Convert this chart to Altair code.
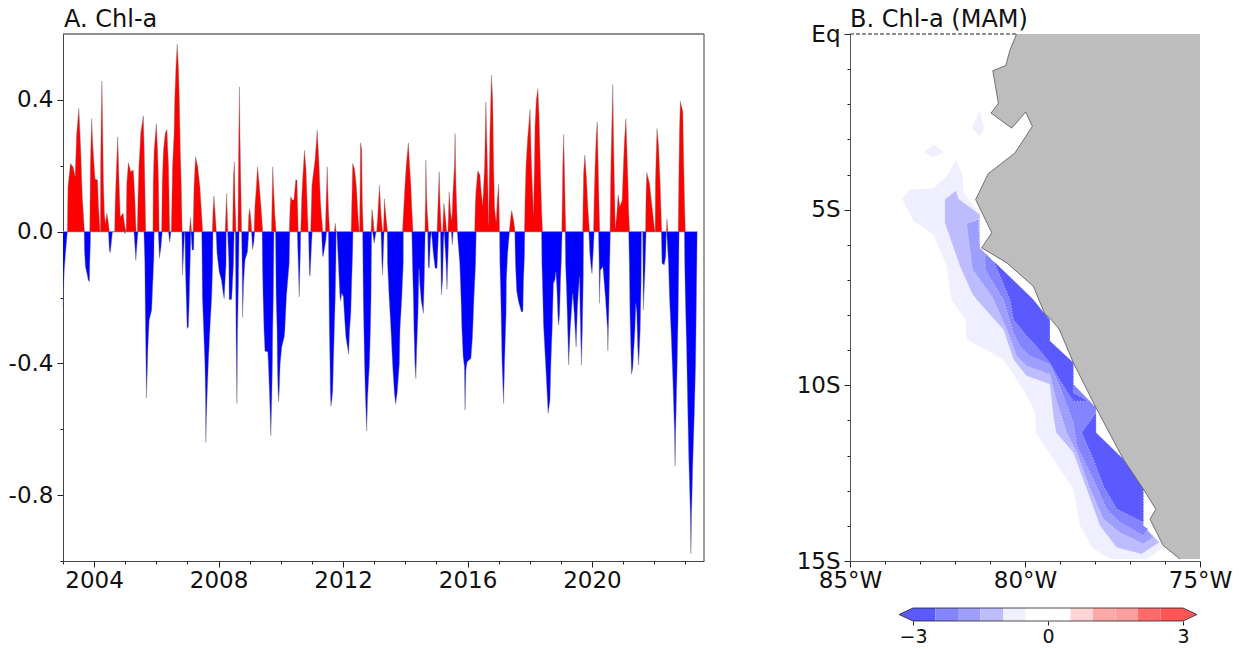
import altair as alt
import pandas as pd

FONT = "DejaVu Sans"

# ---- Panel A: Chl-a anomaly (year, value)
red_points = [
(2003.14,0),(2003.16,.136),(2003.24,.207),(2003.32,.197),(2003.39,.167),(2003.44,.298),(2003.51,.374),(2003.57,.247),(2003.62,.106),(2003.69,0),
(2003.86,0),(2003.88,.2),(2003.92,.343),(2003.96,.26),(2004.03,.16),(2004.11,.157),(2004.14,.08),(2004.19,0),
(2004.20,0),(2004.21,.2),(2004.23,.35),(2004.25,.457),(2004.27,.35),(2004.30,.15),(2004.33,.056),(2004.36,.025),(2004.41,.056),(2004.46,.025),(2004.49,0),
(2004.66,0),(2004.68,.096),(2004.72,.2),(2004.76,.288),(2004.80,.157),(2004.84,.045),(2004.93,.056),(2004.99,.015),(2005.03,0),
(2005.05,.146),(2005.10,.209),(2005.18,.182),(2005.26,.187),(2005.31,.1),(2005.35,0),
(2005.39,0),(2005.41,.1),(2005.44,.2),(2005.50,.3),(2005.58,.352),(2005.61,.25),(2005.63,.15),(2005.66,0),
(2005.89,0),(2005.90,.146),(2005.93,.247),(2006.00,.328),(2006.04,.247),(2006.07,.146),(2006.09,0),
(2006.17,0),(2006.19,.15),(2006.23,.25),(2006.29,.30),(2006.34,.31),(2006.39,.2),(2006.41,.1),(2006.43,0),
(2006.48,0),(2006.50,.096),(2006.52,.197),(2006.57,.298),(2006.59,.399),(2006.63,.50),(2006.67,.569),(2006.71,.50),(2006.74,.399),(2006.77,.247),(2006.80,.146),(2006.83,0),
(2007.06,0),(2007.10,.043),(2007.13,0),
(2007.18,0),(2007.21,.136),(2007.26,.227),(2007.33,.197),(2007.40,.136),(2007.45,.06),(2007.49,0),
(2007.80,0),(2007.82,.06),(2007.85,.108),(2007.89,.056),(2007.93,0),
(2008.21,0),(2008.24,.07),(2008.26,.116),(2008.28,.05),(2008.30,0),
(2008.45,0),(2008.47,.12),(2008.48,.172),(2008.51,.212),(2008.53,.09),(2008.55,.04),(2008.56,0),
(2008.62,0),(2008.64,.2),(2008.65,.298),(2008.67,.44),(2008.69,.28),(2008.72,.12),(2008.74,0),
(2008.95,0),(2008.97,.05),(2009.00,.07),(2009.04,.035),(2009.07,0),
(2009.14,0),(2009.17,.08),(2009.21,.13),(2009.25,.197),(2009.30,.15),(2009.36,.08),(2009.42,0),
(2009.70,0),(2009.72,.1),(2009.74,.197),(2009.77,.13),(2009.81,.05),(2009.85,0),
(2010.27,0),(2010.30,.08),(2010.32,.106),(2010.37,.096),(2010.42,.096),(2010.48,.157),(2010.52,.157),(2010.56,0),
(2010.64,0),(2010.67,.1),(2010.70,.157),(2010.76,.247),(2010.81,.19),(2010.85,.08),(2010.88,0),
(2010.96,0),(2011.00,.14),(2011.05,.18),(2011.10,.217),(2011.17,.308),(2011.23,.2),(2011.27,.1),(2011.30,.056),(2011.35,0),
(2011.43,0),(2011.46,.1),(2011.49,.197),(2011.53,.07),(2011.57,0),
(2011.72,0),(2011.75,.025),(2011.78,0),
(2012.26,0),(2012.29,.12),(2012.31,.207),(2012.37,.19),(2012.43,.136),(2012.48,.05),(2012.52,0),
(2012.53,0),(2012.55,.15),(2012.56,.27),(2012.60,.25),(2012.62,.09),(2012.65,0),
(2012.90,0),(2012.93,.068),(2012.97,.035),(2013.00,0),
(2013.08,0),(2013.12,.056),(2013.17,.141),(2013.22,.056),(2013.27,0),(2013.30,.005),(2013.33,.10),(2013.38,.045),(2013.43,0),
(2013.91,0),(2013.95,.07),(2013.99,.14),(2014.03,.2),(2014.10,.27),(2014.14,.2),(2014.18,.14),(2014.21,.07),(2014.25,0),
(2014.63,0),(2014.65,.1),(2014.66,.217),(2014.69,.1),(2014.71,.056),(2014.75,0),
(2015.02,0),(2015.05,.08),(2015.07,.13),(2015.09,.182),(2015.12,.08),(2015.16,0),
(2015.20,0),(2015.24,.086),(2015.29,.045),(2015.33,0),
(2015.37,0),(2015.41,.121),(2015.46,.056),(2015.50,.035),(2015.53,.116),(2015.58,.2),(2015.60,.298),(2015.63,.14),(2015.68,0),
(2016.23,0),(2016.25,.08),(2016.27,.12),(2016.33,.185),(2016.40,.172),(2016.44,.12),(2016.49,.08),(2016.55,.2),(2016.59,.394),(2016.64,.2),(2016.68,.02),
(2016.72,.298),(2016.77,.475),(2016.81,.40),(2016.84,.2),(2016.87,.07),(2016.92,.03),(2016.96,.10),(2017.00,.144),(2017.03,0),
(2017.34,0),(2017.39,.045),(2017.42,.064),(2017.48,.035),(2017.53,0),
(2017.83,0),(2017.85,.1),(2017.88,.2),(2017.93,.28),(2018.01,.371),(2018.04,.25),(2018.07,.17),(2018.12,.056),(2018.15,.2),(2018.17,.32),(2018.21,.40),(2018.26,.434),(2018.30,.35),(2018.34,.2),(2018.38,.07),(2018.41,0),
(2019.03,0),(2019.05,.12),(2019.06,.197),(2019.09,.295),(2019.12,.167),(2019.14,.07),(2019.16,0),
(2019.70,0),(2019.72,.12),(2019.73,.177),(2019.77,.232),(2019.82,.167),(2019.87,.07),(2019.92,0),
(2020.05,0),(2020.07,.1),(2020.10,.2),(2020.14,.298),(2020.17,.333),(2020.20,.2),(2020.23,.07),(2020.25,0),
(2020.58,0),(2020.60,.15),(2020.62,.25),(2020.67,.447),(2020.69,.3),(2020.72,.15),(2020.75,.01),(2020.80,.056),(2020.84,.111),(2020.90,.076),(2020.97,.096),(2021.01,.2),(2021.04,.27),(2021.09,.343),(2021.12,.26),(2021.16,.14),(2021.18,.06),(2021.21,0),
(2021.72,0),(2021.74,.12),(2021.76,.179),(2021.85,.146),(2021.93,.076),(2022.00,.015),(2022.03,0),
(2022.04,.15),(2022.06,.22),(2022.09,.313),(2022.14,.26),(2022.19,.15),(2022.22,.06),(2022.24,0),
(2022.39,0),(2022.41,.038),(2022.44,0),
(2022.77,0),(2022.79,.15),(2022.81,.3),(2022.84,.396),(2022.92,.364),(2022.95,.2),(2022.98,.07),(2023.00,0),
]

blue_points = [
(2003.00,-.228),(2003.04,-.117),(2003.09,-.056),(2003.14,0),
(2003.68,0),(2003.69,-.056),(2003.72,-.106),(2003.77,-.127),(2003.81,-.147),(2003.85,-.152),(2003.86,-.096),(2003.88,-.035),(2003.885,0),
(2004.46,0),(2004.49,-.056),(2004.52,-.064),(2004.59,0),
(2004.97,0),(2004.99,-.006),(2005.01,0),
(2005.28,0),(2005.32,-.056),(2005.34,-.088),(2005.38,-.035),(2005.41,0),
(2005.60,0),(2005.63,-.096),(2005.64,-.198),(2005.65,-.279),(2005.66,-.35),(2005.67,-.42),(2005.68,-.505),(2005.71,-.42),(2005.73,-.35),(2005.77,-.268),(2005.85,-.238),(2005.89,-.147),(2005.92,-.076),(2005.93,0),
(2006.06,0),(2006.08,-.035),(2006.10,-.081),(2006.15,-.046),(2006.19,0),
(2006.39,0),(2006.43,-.033),(2006.47,0),
(2006.82,0),(2006.84,-.132),(2006.87,-.076),(2006.90,-.015),(2006.92,0),
(2006.93,-.096),(2006.96,-.198),(2006.99,-.294),(2007.03,-.289),(2007.06,-.198),(2007.09,-.076),(2007.11,0),
(2007.15,-.056),(2007.20,-.056),(2007.21,0),
(2007.46,0),(2007.47,-.096),(2007.48,-.198),(2007.52,-.299),(2007.56,-.40),(2007.58,-.502),(2007.59,-.64),(2007.61,-.563),(2007.63,-.502),(2007.67,-.40),(2007.72,-.299),(2007.78,-.198),(2007.81,-.096),(2007.82,0),
(2007.92,0),(2007.95,-.066),(2008.02,-.122),(2008.09,-.147),(2008.15,-.188),(2008.18,-.203),(2008.21,-.15),(2008.24,-.10),(2008.245,0),
(2008.29,0),(2008.33,-.096),(2008.34,-.206),(2008.42,-.206),(2008.48,-.096),(2008.50,0),
(2008.54,0),(2008.55,-.147),(2008.56,-.299),(2008.59,-.522),(2008.61,-.299),(2008.64,-.147),(2008.66,0),
(2008.74,0),(2008.76,-.127),(2008.77,-.26),(2008.81,-.147),(2008.85,-.086),(2008.93,-.061),(2008.97,0),
(2009.06,0),(2009.09,-.054),(2009.13,-.035),(2009.16,0),
(2009.40,0),(2009.41,-.096),(2009.43,-.198),(2009.46,-.299),(2009.49,-.363),(2009.58,-.365),(2009.60,-.40),(2009.64,-.502),(2009.68,-.62),(2009.71,-.502),(2009.73,-.40),(2009.74,-.299),(2009.76,-.198),(2009.77,-.096),(2009.78,0),
(2009.83,0),(2009.84,-.096),(2009.85,-.198),(2009.88,-.299),(2009.89,-.40),(2009.91,-.48),(2009.93,-.517),(2009.95,-.48),(2009.98,-.40),(2010.03,-.35),(2010.11,-.32),(2010.13,-.299),(2010.18,-.198),(2010.27,-.096),(2010.29,0),
(2010.53,0),(2010.56,-.096),(2010.59,-.198),(2010.63,-.056),(2010.64,0),
(2010.89,0),(2010.92,-.127),(2010.94,-.135),(2010.99,-.035),(2011.01,0),
(2011.31,0),(2011.34,-.071),(2011.36,-.076),(2011.45,-.025),(2011.47,0),
(2011.53,0),(2011.54,-.096),(2011.55,-.198),(2011.56,-.299),(2011.58,-.40),(2011.59,-.48),(2011.61,-.53),(2011.64,-.512),(2011.67,-.48),(2011.69,-.40),(2011.72,-.299),(2011.75,-.198),(2011.77,-.096),(2011.78,0),
(2011.80,0),(2011.83,-.056),(2011.86,-.117),(2011.90,-.198),(2011.92,-.211),(2011.96,-.187),(2012.01,-.198),(2012.04,-.248),(2012.09,-.32),(2012.18,-.372),(2012.21,-.299),(2012.25,-.248),(2012.28,-.147),(2012.31,-.056),(2012.32,0),
(2012.63,0),(2012.64,-.096),(2012.65,-.198),(2012.67,-.299),(2012.69,-.40),(2012.72,-.502),(2012.76,-.606),(2012.79,-.502),(2012.85,-.40),(2012.88,-.299),(2012.90,-.198),(2012.91,-.096),(2012.92,0),
(2012.95,0),(2013.00,-.035),(2013.06,0),
(2013.22,0),(2013.25,-.096),(2013.27,-.132),(2013.30,-.05),(2013.32,0),
(2013.42,0),(2013.43,-.096),(2013.48,-.198),(2013.54,-.299),(2013.59,-.40),(2013.65,-.49),(2013.69,-.524),(2013.74,-.49),(2013.81,-.40),(2013.83,-.299),(2013.89,-.198),(2013.935,-.096),(2013.94,0),
(2014.21,0),(2014.23,-.096),(2014.26,-.198),(2014.28,-.299),(2014.31,-.40),(2014.34,-.446),(2014.37,-.35),(2014.41,-.248),(2014.44,-.112),(2014.47,-.162),(2014.51,-.208),(2014.58,-.248),(2014.61,-.147),(2014.64,0),
(2014.72,0),(2014.74,-.106),(2014.77,-.111),(2014.81,-.025),(2014.84,0),
(2014.90,-.066),(2014.96,-.111),(2015.02,-.111),(2015.07,0),
(2015.13,0),(2015.16,-.192),(2015.20,-.147),(2015.23,-.025),(2015.25,0),
(2015.31,-.096),(2015.34,-.175),(2015.38,-.056),(2015.40,0),
(2015.48,0),(2015.51,-.04),(2015.54,0),
(2015.67,0),(2015.75,-.096),(2015.79,-.198),(2015.82,-.299),(2015.86,-.38),(2015.90,-.41),(2015.92,-.542),(2015.95,-.42),(2015.99,-.395),(2016.11,-.385),(2016.16,-.32),(2016.21,-.198),(2016.26,-.096),(2016.28,0),
(2017.03,0),(2017.04,-.096),(2017.07,-.198),(2017.09,-.299),(2017.11,-.40),(2017.16,-.522),(2017.19,-.40),(2017.24,-.248),(2017.25,-.147),(2017.29,-.066),(2017.35,0),
(2017.52,0),(2017.54,-.096),(2017.58,-.18),(2017.64,-.213),(2017.73,-.243),(2017.78,-.243),(2017.80,-.147),(2017.83,-.076),(2017.84,0),
(2018.38,0),(2018.39,-.096),(2018.42,-.198),(2018.44,-.279),(2018.48,-.35),(2018.52,-.42),(2018.59,-.552),(2018.65,-.512),(2018.68,-.40),(2018.72,-.299),(2018.76,-.157),(2018.81,-.147),(2018.84,-.122),(2018.87,-.167),(2018.91,-.268),(2018.93,-.284),(2018.96,-.248),(2018.99,-.147),(2019.02,-.076),(2019.04,0),
(2019.14,0),(2019.15,-.096),(2019.19,-.198),(2019.22,-.299),(2019.25,-.405),(2019.30,-.299),(2019.35,-.228),(2019.38,-.188),(2019.43,-.248),(2019.49,-.35),(2019.53,-.238),(2019.56,-.188),(2019.60,-.137),(2019.62,-.248),(2019.66,-.405),(2019.69,-.299),(2019.72,-.147),(2019.73,0),
(2019.90,0),(2019.93,-.066),(2019.97,-.106),(2020.00,-.127),(2020.05,-.046),(2020.07,0),
(2020.21,0),(2020.23,-.096),(2020.24,-.218),(2020.27,-.117),(2020.35,-.107),(2020.43,-.198),(2020.50,-.299),(2020.51,-.362),(2020.54,-.248),(2020.57,-.096),(2020.59,0),
(2021.18,0),(2021.20,-.096),(2021.22,-.248),(2021.27,-.433),(2021.31,-.415),(2021.38,-.299),(2021.41,-.218),(2021.44,-.248),(2021.47,-.35),(2021.50,-.405),(2021.55,-.299),(2021.58,-.147),(2021.59,0),
(2021.63,0),(2021.65,-.238),(2021.70,-.127),(2021.74,0),
(2022.23,0),(2022.25,-.096),(2022.32,-.101),(2022.37,-.076),(2022.39,0),
(2022.40,0),(2022.46,-.096),(2022.49,-.198),(2022.54,-.299),(2022.60,-.451),(2022.65,-.603),(2022.67,-.712),(2022.69,-.603),(2022.74,-.40),(2022.77,-.248),(2022.79,-.096),(2022.80,0),
(2022.97,0),(2022.98,-.096),(2023.00,-.198),(2023.04,-.35),(2023.07,-.502),(2023.11,-.684),(2023.16,-.856),(2023.18,-.978),(2023.20,-.856),(2023.24,-.704),(2023.29,-.552),(2023.33,-.40),(2023.35,-.248),(2023.37,-.096),(2023.38,0),
]

year_ticks = list(range(2003, 2024))
value_ticks = [-1.0, -0.8, -0.6, -0.4, -0.2, 0.0, 0.2, 0.4]

# ---- Panel B: coast and contour outlines (lon, lat)
coast = [(-80.24,0),(-80.43,-.46),(-80.55,-.90),(-80.92,-1.05),(-80.76,-1.98),(-80.97,-2.26),(-80.38,-2.69),(-79.98,-2.23),(-79.79,-2.64),
         (-80.29,-3.40),(-81.05,-3.99),(-81.41,-4.73),(-80.95,-5.68),(-81.24,-6.11),(-80.52,-6.54),(-79.76,-7.21),(-79.43,-8.01),(-79.29,-8.11),
         (-79.02,-8.44),(-78.62,-9.39),(-77.97,-10.68),(-77.19,-12.15),(-76.62,-13.0),(-76.26,-13.58),(-76.43,-13.86),(-76.05,-14.62),(-75.57,-15)]
land_corners = [(-75,-15),(-75,0)]

shelf_edge = [(-81.29,-6.11),(-80.86,-6.54),(-79.76,-7.59),(-79.43,-8.01),(-79.29,-8.16),(-79.29,-8.77),(-78.62,-9.39),(-78.62,-10.01),
              (-77.97,-10.68),(-77.97,-11.39),(-77.19,-12.15),(-76.62,-13.0),(-76.62,-14.05)]

band1 = [(-83.52,-4.71),(-83.29,-4.45),(-82.62,-4.40),(-82.24,-4.07),(-81.97,-3.59),(-81.78,-4.02),(-81.76,-4.54),(-81.29,-5.11)] + shelf_edge + [
         (-76.05,-14.67),(-76.52,-15),(-77.57,-15),(-78.05,-14.71),(-78.43,-14.05),(-78.62,-13.0),(-79.19,-12.15),(-79.69,-11.39),(-79.71,-10.82),
         (-80.05,-10.15),(-80.62,-9.30),(-81.67,-8.73),(-81.70,-8.16),(-82.10,-7.59),(-82.24,-6.63),(-82.62,-5.73),(-83.19,-5.35)]
patch1 = [(-81.29,-2.19),(-81.17,-2.69),(-81.29,-2.93),(-81.52,-2.69)]
patch2 = [(-82.62,-3.15),(-82.31,-3.38),(-82.62,-3.53),(-82.89,-3.38)]
band2 = [(-82.29,-4.73),(-81.97,-4.47),(-81.90,-4.71),(-81.29,-5.16)] + shelf_edge + [
         (-76.16,-14.52),(-76.67,-14.86),(-77.38,-14.67),(-77.86,-14.05),(-78.24,-13.0),(-78.62,-11.96),(-79.11,-11.39),(-79.19,-10.91),(-79.29,-10.01),
         (-79.95,-9.77),(-80.33,-9.30),(-80.62,-8.44),(-81.38,-7.59),(-81.52,-7.40),(-81.86,-6.63),(-82.29,-5.40)]
band3 = [(-81.67,-5.42),(-81.33,-5.30)] + shelf_edge + [
         (-76.33,-14.38),(-76.62,-14.57),(-77.29,-14.24),(-77.76,-13.86),(-78.14,-13.0),(-78.52,-11.96),(-78.81,-11.39),(-79.14,-10.34),(-79.29,-9.72),
         (-79.95,-9.49),(-80.24,-9.20),(-80.52,-8.44),(-80.90,-7.59),(-80.95,-7.49),(-81.50,-6.73)]
band4 = shelf_edge[0:] + [
         (-76.48,-14.14),(-76.62,-14.33),(-77.29,-13.95),(-77.67,-13.57),(-78.05,-12.72),(-78.52,-11.77),(-78.62,-11.10),(-79.05,-9.96),(-79.29,-9.44),
         (-79.86,-9.20),(-80.14,-8.92),(-80.33,-8.54),(-80.62,-7.59),(-81.14,-6.73),(-81.14,-6.25)]
band5a = [(-80.89,-6.49),(-79.76,-7.59),(-79.43,-8.01),(-79.29,-8.16),(-79.29,-8.77),(-78.62,-9.39),(-78.62,-10.25),(-78.19,-10.49),(-78.62,-10.49),
          (-79.05,-9.82),(-79.29,-9.39),(-79.76,-8.82),(-79.95,-8.63),(-80.33,-8.16),(-80.43,-7.59),(-80.71,-6.92)]
band5b = [(-77.97,-10.82),(-77.97,-11.39),(-77.19,-12.15),(-76.62,-13.0),(-76.62,-13.95),(-77.38,-13.57),(-77.76,-12.91),(-78.05,-12.15),(-78.38,-11.39)]

level_names = ["-1.0", "-1.5", "-2.0", "-2.5"]
level_colors = ["#efefff", "#bcbcff", "#9e9eff", "#8484ff"]
deep_name, deep_color = "-3.0", "#5a5aff"

# ---- Colour bar
bar_edges = [-3, -2.5, -2, -1.5, -1, -0.5, 0.5, 1, 1.5, 2, 2.5, 3]
bar_colors = ["#5a5aff", "#8484ff", "#9e9eff", "#bcbcff", "#efefff", "#ffffff", "#ffd4d4", "#ffa8a8", "#ff9e9e", "#ff6a6a", "#ff5555"]
bar_tip = 3.31


def feature(points, level):
    ring = [list(p) for p in points]
    ring.append(ring[0])
    return {"type": "Feature", "properties": {"level": level}, "geometry": {"type": "Polygon", "coordinates": [ring]}}


AW, AH = 641, 527
BW, BH = 350, 527
LABEL = 23
TITLE = 24

x_scale = alt.Scale(domain=[2003, 2023.6], nice=False, zero=False)
y_scale = alt.Scale(domain=[-1.0, 0.6], nice=False, zero=False)

x_axis = alt.Axis(values=year_ticks, title=None, grid=False, labelOverlap=False,
                  labelExpr="datum.value % 4 == 0 ? format(datum.value,'d') : ''",
                  tickSize={"condition": {"test": "datum.value % 4 == 0", "value": 6}, "value": 3},
                  labelPadding=2, domainColor="#444444", tickColor="#222222")
y_axis = alt.Axis(values=value_ticks, title=None, grid=False, labelOverlap=False,
                  labelExpr="abs(round(datum.value*10)) % 4 == 0 ? (datum.value < 0 ? '-' : '') + format(abs(datum.value),'.1f') : ''",
                  tickSize={"condition": {"test": "abs(round(datum.value*10)) % 4 == 0", "value": 6}, "value": 3},
                  labelPadding=4, domainColor="#444444", tickColor="#222222")

red_df = pd.DataFrame(red_points, columns=["year", "value"])
blue_df = pd.DataFrame(blue_points, columns=["year", "value"])
zero_df = pd.DataFrame({"a": [2003.0], "b": [2023.4], "v": [0.0]})
top_df = pd.DataFrame({"v": [0.6]})
right_df = pd.DataFrame({"v": [2023.6]})

base_x = alt.X("year:Q", scale=x_scale, axis=x_axis, title=None)
base_y = alt.Y("value:Q", scale=y_scale, axis=y_axis, title=None)

zero_line = alt.Chart(zero_df).mark_rule(color="#cccccc", strokeWidth=1.5).encode(
    x=alt.X("a:Q", scale=x_scale, axis=x_axis), x2="b:Q", y=alt.Y("v:Q", scale=y_scale, axis=y_axis))
blue_area = alt.Chart(blue_df).mark_area(color="#0000ff", opacity=1, line={"color": "#777777", "strokeWidth": 0.4}).encode(x=base_x, y=base_y, y2=alt.datum(0))
red_area = alt.Chart(red_df).mark_area(color="#ff0000", opacity=1, line={"color": "#777777", "strokeWidth": 0.4}).encode(x=base_x, y=base_y, y2=alt.datum(0))
top_line = alt.Chart(top_df).mark_rule(color="#222222", strokeWidth=1).encode(y=alt.Y("v:Q", scale=y_scale, axis=y_axis))
right_line = alt.Chart(right_df).mark_rule(color="#888888", strokeWidth=1.6).encode(x=alt.X("v:Q", scale=x_scale, axis=x_axis))
title_a = alt.Chart(pd.DataFrame({"t": ["A. Chl-a"]})).mark_text(align="left", baseline="alphabetic", font=FONT, fontSize=TITLE, color="#111111").encode(
    x=alt.value(1), y=alt.value(-7), text="t:N")

panel_a = alt.layer(zero_line, blue_area, red_area, top_line, right_line, title_a).properties(width=AW, height=AH)

# Panel B
proj = dict(type="identity", reflectY=True, scale=35, translate=[35 * 85, 0])

contour_features = [feature(band1, level_names[0]), feature(patch1, level_names[0]), feature(patch2, level_names[0]),
                    feature(band2, level_names[1]), feature(band3, level_names[2]), feature(band4, level_names[3]),
                    feature(band5a, deep_name), feature(band5b, deep_name)]
contours = alt.Chart(alt.Data(values=contour_features)).mark_geoshape(stroke="white", strokeWidth=0.5, strokeDash=[1, 2]).encode(
    color=alt.Color("properties.level:N", legend=None,
                    scale=alt.Scale(domain=level_names + [deep_name], range=level_colors + [deep_color]))
).project(**proj)

land_feature = feature(coast + land_corners, "land")
land = alt.Chart(alt.Data(values=[land_feature])).mark_geoshape(fill="#bdbdbd", stroke=None).project(**proj)

coast_feature = {"type": "Feature", "properties": {}, "geometry": {"type": "LineString", "coordinates": [list(p) for p in coast]}}
coastline = alt.Chart(alt.Data(values=[coast_feature])).mark_geoshape(filled=False, stroke="#444444", strokeWidth=0.7).project(**proj)

lon_scale = alt.Scale(domain=[-85, -75], nice=False, zero=False)
lat_scale = alt.Scale(domain=[-15, 0], nice=False, zero=False)
lon_axis = alt.Axis(values=list(range(-85, -74)), title=None, grid=False, labelOverlap=False, labelFlush=False, labelBound=False,
                    labelExpr="abs(datum.value) % 5 == 0 ? abs(datum.value) + '°W' : ''",
                    tickSize={"condition": {"test": "abs(datum.value) % 5 == 0", "value": 6}, "value": 3},
                    labelPadding=2, domainColor="#555555", tickColor="#222222")
lat_axis = alt.Axis(values=list(range(-15, 1)), title=None, grid=False, labelOverlap=False,
                    labelExpr="datum.value == 0 ? 'Eq' : abs(datum.value) % 5 == 0 ? abs(datum.value) + 'S' : ''",
                    tickSize={"condition": {"test": "abs(datum.value) % 5 == 0", "value": 6}, "value": 3},
                    labelPadding=4, domainColor="#555555", tickColor="#222222")

eq_df = pd.DataFrame({"a": [-85.0], "b": [-80.24], "v": [0.0]})
eq_line = alt.Chart(eq_df).mark_rule(color="#222222", strokeWidth=1, strokeDash=[4, 2]).encode(
    x=alt.X("a:Q", scale=lon_scale, axis=lon_axis), x2="b:Q", y=alt.Y("v:Q", scale=lat_scale, axis=lat_axis))
title_b = alt.Chart(pd.DataFrame({"t": ["B. Chl-a (MAM)"]})).mark_text(align="left", baseline="alphabetic", font=FONT, fontSize=TITLE, color="#111111").encode(
    x=alt.value(0), y=alt.value(-7), text="t:N")

panel_b = alt.layer(contours, land, coastline, eq_line, title_b).properties(width=BW, height=BH)

# Colour bar
cb_scale = alt.Scale(domain=[-4.4, 3.378], nice=False, zero=False)
cb_y = alt.Scale(domain=[0, 1], nice=False, zero=False)
bins = [str(i) for i in range(len(bar_colors))]
cb_df = pd.DataFrame({"a": bar_edges[:-1], "b": bar_edges[1:], "bin": bins, "y0": [0] * len(bins), "y1": [1] * len(bins)})
cb_axis = alt.Axis(values=[-3, 0, 3], title=None, grid=False, labelFontSize=19, tickSize=4, labelPadding=2, domain=False,
                   labelExpr="datum.value < 0 ? '−' + abs(datum.value) : '' + datum.value", tickColor="#222222")
cb_rects = alt.Chart(cb_df).mark_rect(opacity=1).encode(
    x=alt.X("a:Q", scale=cb_scale, axis=cb_axis), x2="b:Q",
    y=alt.Y("y0:Q", scale=cb_y, axis=None), y2="y1:Q",
    color=alt.Color("bin:N", legend=None, scale=alt.Scale(domain=bins, range=bar_colors)))

tip_l = pd.DataFrame({"x": [-bar_tip, -3], "y": [0.5, 0], "y2": [0.5, 1]})
tip_r = pd.DataFrame({"x": [3, bar_tip], "y": [0, 0.5], "y2": [1, 0.5]})
tip_left = alt.Chart(tip_l).mark_area(color=bar_colors[0], opacity=1).encode(x=alt.X("x:Q", scale=cb_scale, axis=cb_axis), y=alt.Y("y:Q", scale=cb_y, axis=None), y2="y2:Q")
tip_right = alt.Chart(tip_r).mark_area(color=bar_colors[-1], opacity=1).encode(x=alt.X("x:Q", scale=cb_scale, axis=cb_axis), y=alt.Y("y:Q", scale=cb_y, axis=None), y2="y2:Q")
outline_df = pd.DataFrame({"x": [-bar_tip, -3, 3, bar_tip, 3, -3, -bar_tip], "y": [0.5, 1, 1, 0.5, 0, 0, 0.5], "o": list(range(7))})
outline = alt.Chart(outline_df).mark_line(color="#222222", strokeWidth=0.8).encode(
    x=alt.X("x:Q", scale=cb_scale, axis=cb_axis), y=alt.Y("y:Q", scale=cb_y, axis=None), order="o:Q")
colorbar = alt.layer(cb_rects, tip_left, tip_right, outline).properties(width=BW, height=13)

right_col = alt.vconcat(panel_b, colorbar, spacing=14).resolve_scale(color="independent", x="independent", y="independent")
chart = alt.hconcat(panel_a, right_col, spacing=91).resolve_scale(color="independent").properties(padding=0, background="white").configure_view(stroke=None).configure_axis(
    labelFont=FONT, labelFontSize=LABEL, labelColor="#111111", tickWidth=1, domainWidth=1)

chart.save("out.html", embed_options={"renderer": "svg", "actions": False})
